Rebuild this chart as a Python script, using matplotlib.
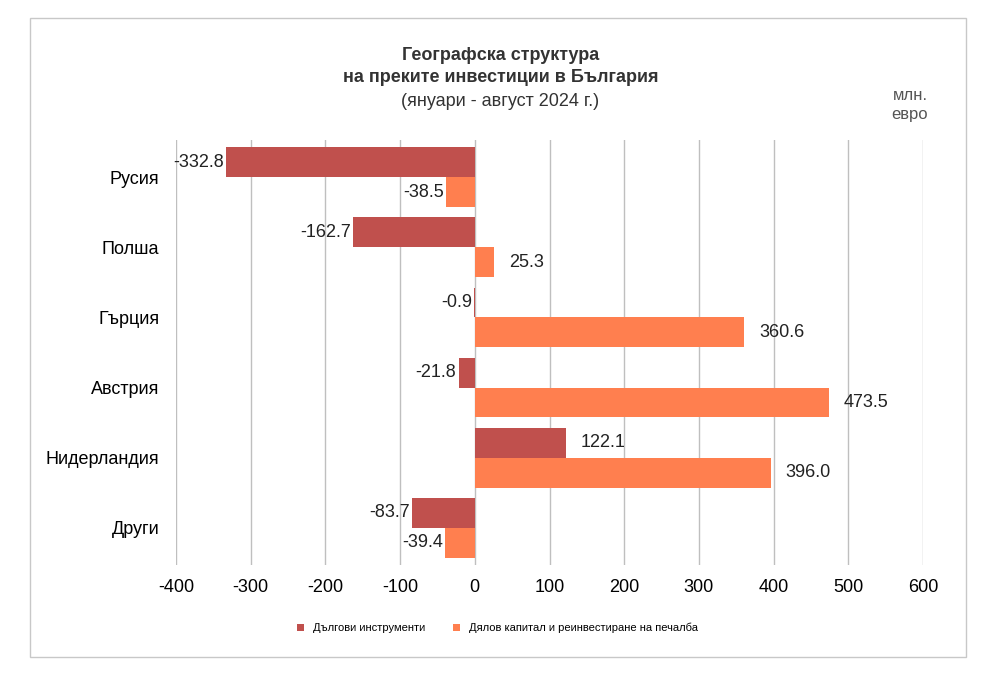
import numpy as np
import matplotlib.pyplot as plt
from matplotlib.patches import Rectangle

plt.rcParams['font.family'] = ['Liberation Sans', 'DejaVu Sans']
plt.rcParams['axes.unicode_minus'] = False

countries = ['Русия', 'Полша', 'Гърция', 'Австрия', 'Нидерландия', 'Други']
debt = [-332.8, -162.7, -0.9, -21.8, 122.1, -83.7]
equity = [-38.5, 25.3, 360.6, 473.5, 396.0, -39.4]
c_debt = '#C0504D'
c_eq = '#FF7F4F'

fig = plt.figure(figsize=(9.95, 6.83), dpi=100)
fig.patches.append(Rectangle((30/995, 1-657/683), 936/995, 639/683,
                             transform=fig.transFigure, fill=False,
                             edgecolor='#C8C8C8', linewidth=1))
ax = fig.add_axes([176/995, 1-565/683, 747/995, 425/683])

y = np.arange(len(countries))
h = 0.425
ax.barh(y - h/2, debt, height=h, color=c_debt, label='Дългови инструменти', zorder=3)
ax.barh(y + h/2, equity, height=h, color=c_eq, label='Дялов капитал и реинвестиране на печалба', zorder=3)

for yy, vals in ((y - h/2, debt), (y + h/2, equity)):
    for yi, v in zip(yy, vals):
        if v < 0:
            ax.text(v - 3, yi, f'{v:.1f}', ha='right', va='center', fontsize=13,
                    color='#222222', zorder=4)
        else:
            ax.text(v + 20, yi, f'{v:.1f}', ha='left', va='center', fontsize=13,
                    color='#222222', zorder=4)

ax.set_xlim(-400, 600)
ax.set_ylim(len(countries) - 0.5 + 0.03, -0.5 - 0.03)
ax.set_xticks(range(-400, 601, 100))
ax.set_yticks(y)
ax.set_yticklabels(countries, fontsize=13)
ax.tick_params(length=0, labelsize=13, pad=10)
ax.tick_params(axis='y', pad=12)
ax.grid(axis='x', color='#BFBFBF', linewidth=1, zorder=0)
for s in ax.spines.values():
    s.set_visible(False)

fig.text(0.503, 1-55/683, 'Географска структура', ha='center', va='center',
         fontsize=13, fontweight='bold', color='#333333')
fig.text(0.503, 1-77/683, 'на преките инвестиции в България', ha='center', va='center',
         fontsize=13, fontweight='bold', color='#333333')
fig.text(0.503, 1-101/683, '(януари - август 2024 г.)', ha='center', va='center',
         fontsize=13, color='#333333')
fig.text(910/995, 1-105/683, 'млн.\nевро', ha='center', va='center',
         fontsize=12, color='#555555', linespacing=1.4)

fig.legend(loc='center', bbox_to_anchor=(0.5, 1-628/683), ncol=2, frameon=False,
           fontsize=8, handlelength=0.6, handleheight=0.6, columnspacing=2.5)

fig.savefig('out.png', dpi=100)
